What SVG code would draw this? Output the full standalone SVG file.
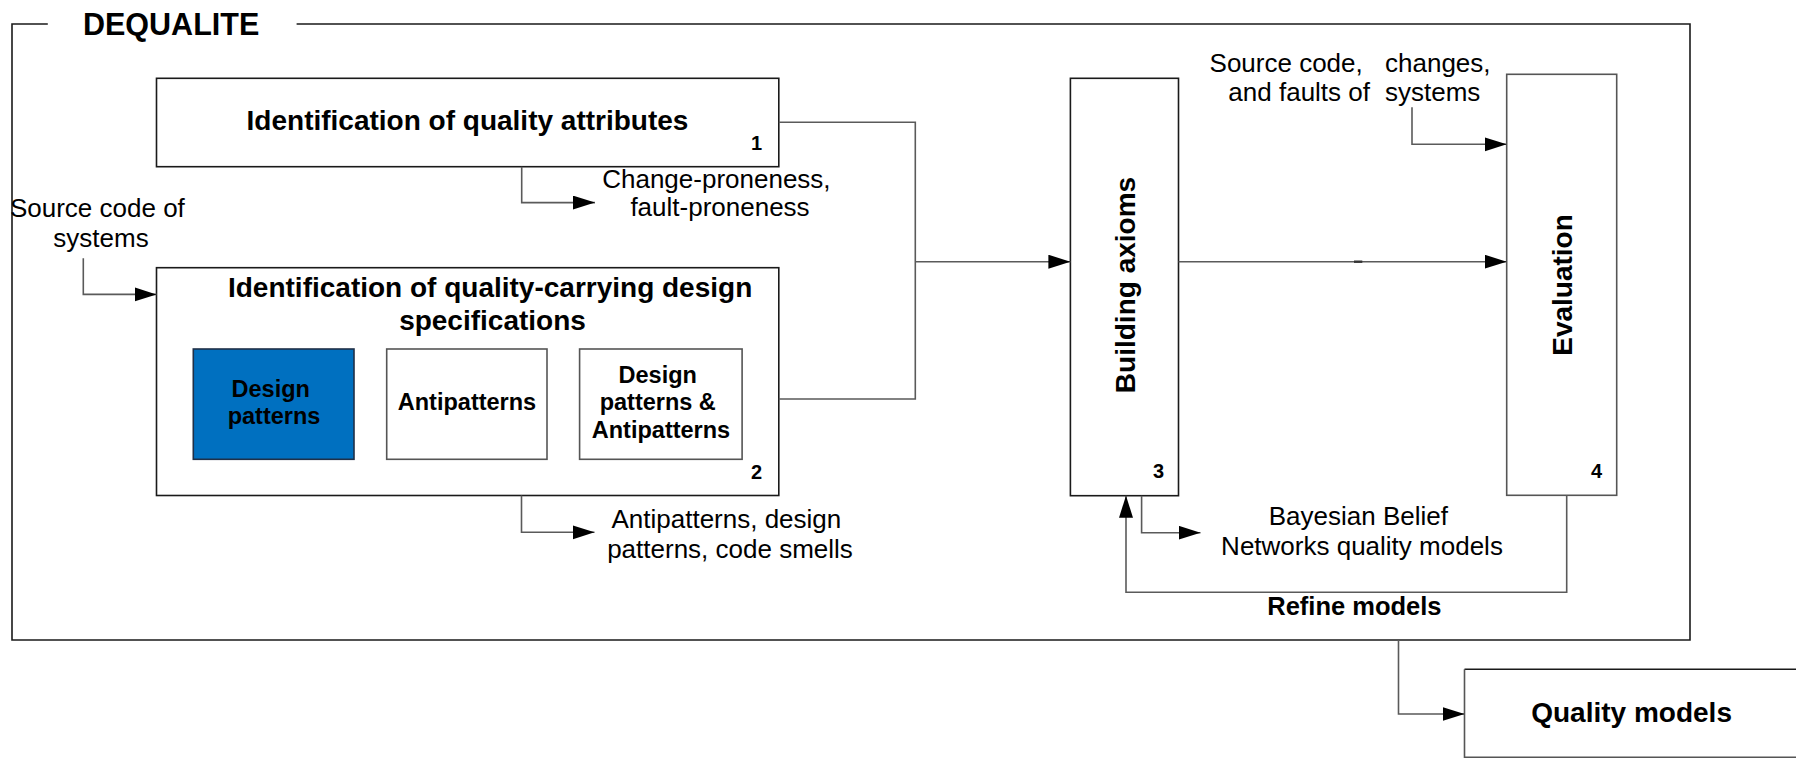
<svg xmlns="http://www.w3.org/2000/svg" width="1796" height="761" viewBox="0 0 1796 761">
  <style>
    .box { fill: #ffffff; stroke: #1a1a1a; stroke-width: 1.6; }
    .box-soft { fill: #ffffff; stroke: #555555; stroke-width: 1.6; }
    .sub { fill: #ffffff; stroke: #555555; stroke-width: 1.6; }
    .sub-blue { fill: #0070c0; stroke: #1f3048; stroke-width: 1.6; }
    .frame { fill: none; stroke: #1a1a1a; stroke-width: 1.6; }
    .wire { fill: none; stroke: #5a5a5a; stroke-width: 1.6; }
    .arrow { marker-end: url(#head); }
    text { font-family: "Liberation Sans", Arial, sans-serif; fill: #000000; }
    .title { font-size: 28px; font-weight: bold; }
    .label { font-size: 26px; }
    .bold-label { font-size: 25.5px; font-weight: bold; }
    .inner { font-size: 23.5px; font-weight: bold; }
    .num { font-size: 20px; font-weight: bold; }
  </style>
  <defs>
    <marker id="head" markerUnits="userSpaceOnUse" markerWidth="24" markerHeight="16" refX="22" refY="7" orient="auto">
      <path d="M0,0 L22,7 L0,14 Z" fill="#000000"/>
    </marker>
  </defs>

  <rect width="1796" height="761" fill="#ffffff"/>

  <!-- DEQUALITE frame with a gap in the top edge for its title -->
  <g id="dequalite">
    <path class="frame" d="M47.8,24 H12 V640 H1690 V24 H296.6"/>
    <text x="83" y="35" font-size="30.5" font-weight="bold">DEQUALITE</text>
  </g>

  <!-- Step 1 -->
  <g id="step1">
    <rect class="box" x="156.5" y="78.3" width="622.3" height="88.4"/>
    <text class="title" x="467.5" y="130" text-anchor="middle">Identification of quality attributes</text>
    <text class="num" x="762" y="150" text-anchor="end">1</text>
  </g>

  <!-- Step 2 with its three design specification kinds -->
  <g id="step2">
    <rect class="box" x="156.5" y="267.7" width="622.3" height="227.8"/>
    <text class="title" text-anchor="middle">
      <tspan x="494" y="296.7">Identification of quality-carrying design</tspan>
      <tspan x="492.5" y="330">specifications</tspan>
    </text>
    <text class="num" x="762" y="479" text-anchor="end">2</text>
  </g>
  <g id="design-patterns">
    <rect class="sub-blue" x="193.3" y="349" width="160.7" height="110.3"/>
    <text class="inner" text-anchor="middle">
      <tspan x="274" y="396.7">Design</tspan>
      <tspan x="274" y="424">patterns</tspan>
    </text>
  </g>
  <g id="antipatterns">
    <rect class="sub" x="386.7" y="349" width="160.3" height="110.3"/>
    <text class="inner" x="467" y="410" text-anchor="middle">Antipatterns</text>
  </g>
  <g id="patterns-and-antipatterns">
    <rect class="sub" x="579.6" y="349" width="162.5" height="110.3"/>
    <text class="inner" text-anchor="middle">
      <tspan x="661" y="382.7">Design</tspan>
      <tspan x="661" y="410.3">patterns &amp;</tspan>
      <tspan x="661" y="438.3">Antipatterns</tspan>
    </text>
  </g>

  <!-- Step 3 -->
  <g id="step3">
    <rect class="box" x="1070.4" y="78.3" width="108.1" height="417.4"/>
    <text class="title" transform="translate(1135,285) rotate(-90)" text-anchor="middle">Building axioms</text>
    <text class="num" x="1164" y="478" text-anchor="end">3</text>
  </g>

  <!-- Step 4 -->
  <g id="step4">
    <rect class="box-soft" x="1506.7" y="74.3" width="110" height="421"/>
    <text class="title" transform="translate(1571.5,285) rotate(-90)" text-anchor="middle">Evaluation</text>
    <text class="num" x="1602" y="478" text-anchor="end">4</text>
  </g>

  <!-- Final output -->
  <g id="quality-models">
    <path d="M1464.5,669.3 H1798" fill="none" stroke="#1a1a1a" stroke-width="1.6"/>
    <path d="M1464.5,669.3 V757.3 H1798" fill="none" stroke="#555555" stroke-width="1.6"/>
    <text class="title" x="1631.6" y="721.7" text-anchor="middle">Quality models</text>
  </g>

  <!-- Inputs and outputs -->
  <g id="io-labels">
    <text class="label" text-anchor="middle">
      <tspan x="101" y="216.7">Source code of</tspan>
      <tspan x="101" y="246.7">systems</tspan>
    </text>
    <text class="label" text-anchor="middle">
      <tspan x="720" y="187.7">Change-proneness,</tspan>
      <tspan x="720" y="216">fault-proneness</tspan>
    </text>
    <text class="label" text-anchor="middle">
      <tspan x="730" y="528.3">Antipatterns, design</tspan>
      <tspan x="730" y="558.3">patterns, code smells</tspan>
    </text>
    <text class="label" text-anchor="end">
      <tspan x="1370" y="71.7">Source code,</tspan>
      <tspan x="1370" y="101">and faults of</tspan>
    </text>
    <text class="label">
      <tspan x="1385" y="71.7">changes,</tspan>
      <tspan x="1385" y="101">systems</tspan>
    </text>
    <text class="label" text-anchor="middle">
      <tspan x="1362" y="525">Bayesian Belief</tspan>
      <tspan x="1362" y="555">Networks quality models</tspan>
    </text>
    <text class="bold-label" x="1354.4" y="615" text-anchor="middle">Refine models</text>
  </g>

  <!-- Connectors -->
  <g id="connectors">
    <path class="wire arrow" d="M83.3,258.3 V294.4 H156.5"/>
    <path class="wire arrow" d="M521.7,166.7 V202.6 H595"/>
    <path class="wire arrow" d="M521.5,495.5 V532.3 H594.5"/>
    <path class="wire" d="M778.8,122.3 H915.3 V399 H778.8"/>
    <path class="wire arrow" d="M915.3,261.7 H1070.4"/>
    <path class="wire arrow" d="M1178.5,261.7 H1506.7"/>
    <path d="M1354,261.7 H1362.3" stroke="#333333" stroke-width="2.4"/>
    <path class="wire arrow" d="M1412,107.3 V144.3 H1506.7"/>
    <path class="wire arrow" d="M1141.6,495.7 V532.7 H1200.5"/>
    <path class="wire arrow" d="M1566.7,495.3 V592.3 H1126 V495.7"/>
    <path class="wire arrow" d="M1398.5,640 V714 H1464.5"/>
  </g>
</svg>
